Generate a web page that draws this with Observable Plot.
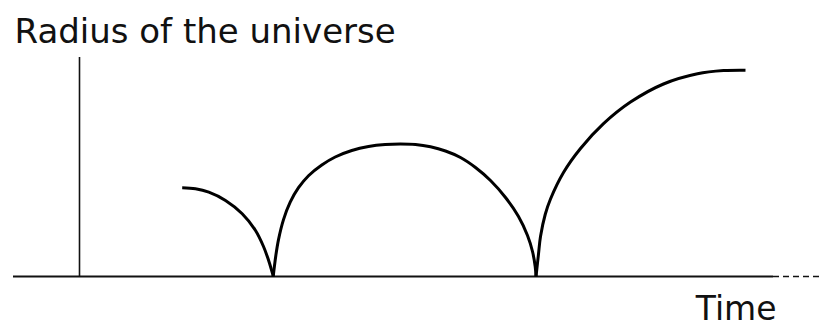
<!DOCTYPE html>
<html>
<head>
<meta charset="utf-8">
<script src="https://cdn.jsdelivr.net/npm/d3@7"></script>
<script src="https://cdn.jsdelivr.net/npm/@observablehq/plot@0.6"></script>
<style>
  html, body { margin: 0; padding: 0; background: #fff; }
  svg { display: block; }
</style>
</head>
<body>
<div id="chart"></div>
<script>
// Time (arbitrary units) and radius (arbitrary units)
const cycle1Time   = [10.27, 11.6, 12.93, 14.6, 16.27, 17.6, 18.4, 18.88, 19.16, 19.3, 19.37];
const cycle1Radius = [8.87, 8.77, 8.43, 7.6, 6.27, 4.6, 3.0, 1.7, 0.8, 0.3, 0];

const cycle2Time   = [19.37, 19.63, 19.9, 20.4, 21.07, 21.9, 22.9, 24.23, 25.57, 27.23, 28.9, 30.57, 32.1, 33.6, 35.1, 36.6, 38.1, 39.6, 41.1, 42.6, 43.9, 44.8, 45.3, 45.57, 45.65];
const cycle2Radius = [0, 2.07, 3.69, 5.69, 7.43, 8.88, 10.08, 11.15, 11.95, 12.6, 13.0, 13.2, 13.25, 13.2, 12.97, 12.55, 11.9, 10.9, 9.6, 7.9, 6.0, 4.1, 2.5, 1.0, 0];

const cycle3Time   = [45.65, 45.9, 46.1, 46.57, 47.1, 48.4, 50.1, 52.4, 55.1, 58.4, 61.8, 64.4, 66.6];
const cycle3Radius = [0, 2.25, 4.0, 6.2, 7.75, 10.4, 12.8, 15.28, 17.44, 19.25, 20.27, 20.59, 20.63];

// Axis extents and scale domains
const timeDomain = [-7.9, 74.4];
const radiusDomain = [-5.1, 27.6];
const timeAxisSolid = [-6.6, 69.4];
const timeAxisDashed = [69.4, 74.4];
const radiusAxisTop = 21.9;

const yLabel = "Radius of the universe";
const xLabel = "Time";

const toRows = (ts, rs, id) => ts.map((t, i) => ({t, r: rs[i], id}));
const curves = [
  ...toRows(cycle1Time, cycle1Radius, "c1"),
  ...toRows(cycle2Time, cycle2Radius, "c2"),
  ...toRows(cycle3Time, cycle3Radius, "c3")
];

const plot = Plot.plot({
  width: 823,
  height: 327,
  marginLeft: 0, marginRight: 0, marginTop: 0, marginBottom: 0,
  style: {fontFamily: "'DejaVu Sans', sans-serif", background: "#fff", color: "#111"},
  x: {domain: timeDomain, axis: null},
  y: {domain: radiusDomain, axis: null},
  marks: [
    Plot.ruleY([0], {x1: timeAxisSolid[0], x2: timeAxisSolid[1], stroke: "#111", strokeWidth: 1.8}),
    Plot.ruleY([0], {x1: timeAxisDashed[0], x2: timeAxisDashed[1], stroke: "#111", strokeWidth: 1.6, strokeDasharray: "6,4"}),
    Plot.ruleX([0], {y1: 0, y2: radiusAxisTop, stroke: "#111", strokeWidth: 1.6}),
    Plot.line(curves, {x: "t", y: "r", z: "id", curve: "catmull-rom", stroke: "#000", strokeWidth: 3, strokeLinecap: "butt"}),
    Plot.text([yLabel], {frameAnchor: "top-left", dx: 14, dy: 42, lineAnchor: "bottom", textAnchor: "start", fontSize: 34, fill: "#111"}),
    Plot.text([xLabel], {frameAnchor: "bottom-right", dx: -47, dy: -8, lineAnchor: "bottom", textAnchor: "end", fontSize: 33, fill: "#111"})
  ]
});

document.getElementById("chart").appendChild(plot);
</script>
</body>
</html>
